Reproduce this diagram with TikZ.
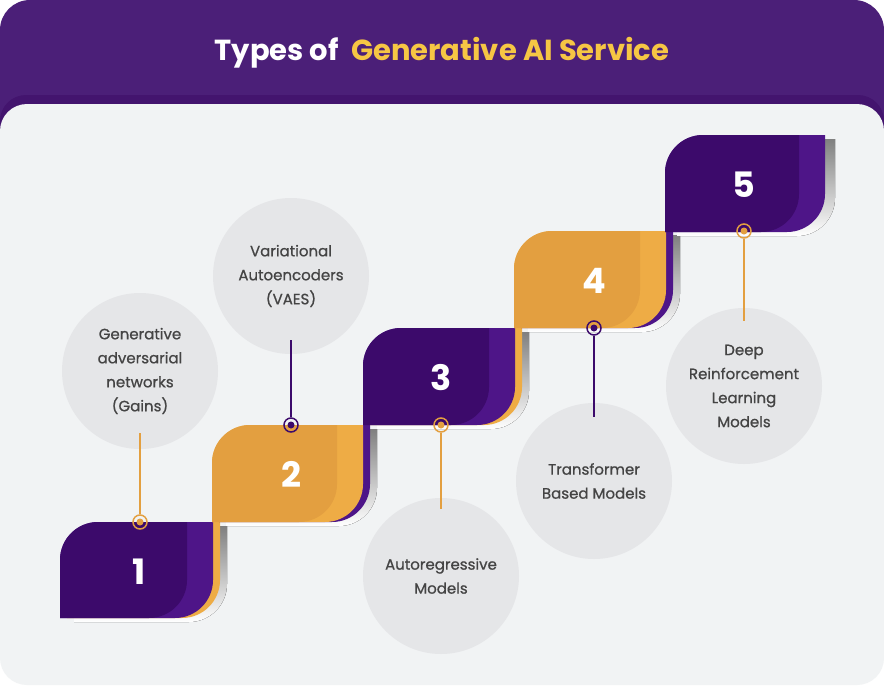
\documentclass[tikz,border=0pt]{standalone}
\usepackage{fontspec}
\setmainfont{Poppins}
\newfontfamily\popm{Poppins}[FakeBold=0.8]
\definecolor{hdr}{HTML}{4B1F78}
\definecolor{band}{HTML}{43146E}
\definecolor{panel}{HTML}{F1F3F4}
\definecolor{pdark}{HTML}{3C0A6B}
\definecolor{plight}{HTML}{4E1588}
\definecolor{odark}{HTML}{E39F40}
\definecolor{olight}{HTML}{EEAC45}
\definecolor{shade}{HTML}{E6E8EA}
\definecolor{bubble}{HTML}{E5E6E8}
\definecolor{txt}{HTML}{444444}
\definecolor{gold}{HTML}{F6C644}
\newcommand\stepfill[5]{\fill[#1] (#2,-#5) -- (#2,{-#3-38}) arc[start angle=180,end angle=90,radius=38] -- (#4,-#3) -- (#4,{-#5+38}) arc[start angle=0,end angle=-90,radius=38] -- cycle;}
\newcommand\stepdraw[6]{%
  \stepfill{#1}{#3}{#4}{#5}{#6}
  \begin{scope}
    \clip (#3,-#6) -- (#3,{-#4-38}) arc[start angle=180,end angle=90,radius=38] -- (#5,-#4) -- (#5,{-#6+38}) arc[start angle=0,end angle=-90,radius=38] -- cycle;
    \stepfill{#2}{#3-26}{#4}{#5-26}{#6}
  \end{scope}}
\tikzset{
  bub/.style={circle, fill=bubble, minimum size=156pt, inner sep=0pt, text=txt, align=center, font=\popm\fontsize{15}{24}\selectfont},
  num/.style={text=white, font=\fontsize{35}{40}\selectfont\bfseries},
  ring/.style={circle, draw=#1, line width=1.5pt, minimum size=14pt, inner sep=0pt},
  conn/.style={draw=#1, line width=2pt},
}
\begin{document}
\begin{tikzpicture}[x=1pt,y=1pt]
\useasboundingbox (0,0) rectangle (884,-686);
\fill[white] (0,0) rectangle (884,-686);
% header and panel
\fill[hdr, rounded corners=30pt] (0,0) rectangle (884,-300);
\fill[band, rounded corners=26pt] (0,-95) rectangle (884,-400);
\fill[panel, rounded corners=27pt] (0,-104) rectangle (884,-685);
\node[font=\fontsize{29}{34}\selectfont\bfseries] (title) at (442,-53) {\textcolor{white}{Types of}\ \ \textcolor{gold}{Generative AI Service}};
% bubbles
\node[bub] (b1) at (140,-371) {Generative\\adversarial\\networks\\(Gains)};
\node[bub] (b2) at (291,-276) {Variational\\Autoencoders\\(VAES)};
\node[bub] (b3) at (441,-576) {Autoregressive\\Models};
\node[bub] (b4) at (594,-481) {Transformer\\Based Models};
\node[bub] (b5) at (744,-386) {Deep\\Reinforcement\\Learning\\Models};
% shadows
\stepfill{shade}{74}{526}{227}{622}
\stepfill{shade}{226}{429}{377}{526}
\stepfill{shade}{377}{332}{529}{429}
\stepfill{shade}{528}{235}{680}{332}
\stepfill{shade}{677}{139}{835}{236}
% slivers of the next step
\stepfill{olight}{67}{522}{220}{618}
\stepfill{plight}{219}{425}{370}{522}
\stepfill{olight}{370}{328}{522}{425}
\stepfill{plight}{521}{231}{673}{328}
% steps
\stepdraw{plight}{pdark}{60}{522}{213}{618}
\stepdraw{olight}{odark}{212}{425}{363}{522}
\stepdraw{plight}{pdark}{363}{328}{515}{425}
\stepdraw{olight}{odark}{514}{231}{666}{328}
\stepdraw{plight}{pdark}{665}{135}{825}{232}
% numbers
\node[num] (n1) at (139,-572) {1};
\node[num] (n2) at (291,-474) {2};
\node[num] (n3) at (441,-378) {3};
\node[num] (n4) at (594,-281) {4};
\node[num] (n5) at (744,-185) {5};
% dots
\node[ring=odark] (d1) at (140,-522) {};
\node[ring=pdark] (d2) at (291,-425) {};
\node[ring=odark] (d3) at (441,-425) {};
\node[ring=pdark] (d4) at (594,-328) {};
\node[ring=odark] (d5) at (744,-231) {};
\fill[odark] (d1.center) circle[radius=3.5];
\fill[pdark] (d2.center) circle[radius=3.5];
\fill[odark] (d3.center) circle[radius=3.5];
\fill[pdark] (d4.center) circle[radius=3.5];
\fill[odark] (d5.center) circle[radius=3.5];
% connector ends
\coordinate (e1) at (140,-433);
\coordinate (e2) at (291,-340);
\coordinate (e3) at (441,-509);
\coordinate (e4) at (594,-417);
\coordinate (e5) at (744,-321);
\draw[conn=odark] (e1) -- (d1.north);
\draw[conn=pdark] (e2) -- (d2.north);
\draw[conn=odark] (d3.south) -- (e3);
\draw[conn=pdark] (d4.south) -- (e4);
\draw[conn=odark] (d5.south) -- (e5);
\end{tikzpicture}
\end{document}
